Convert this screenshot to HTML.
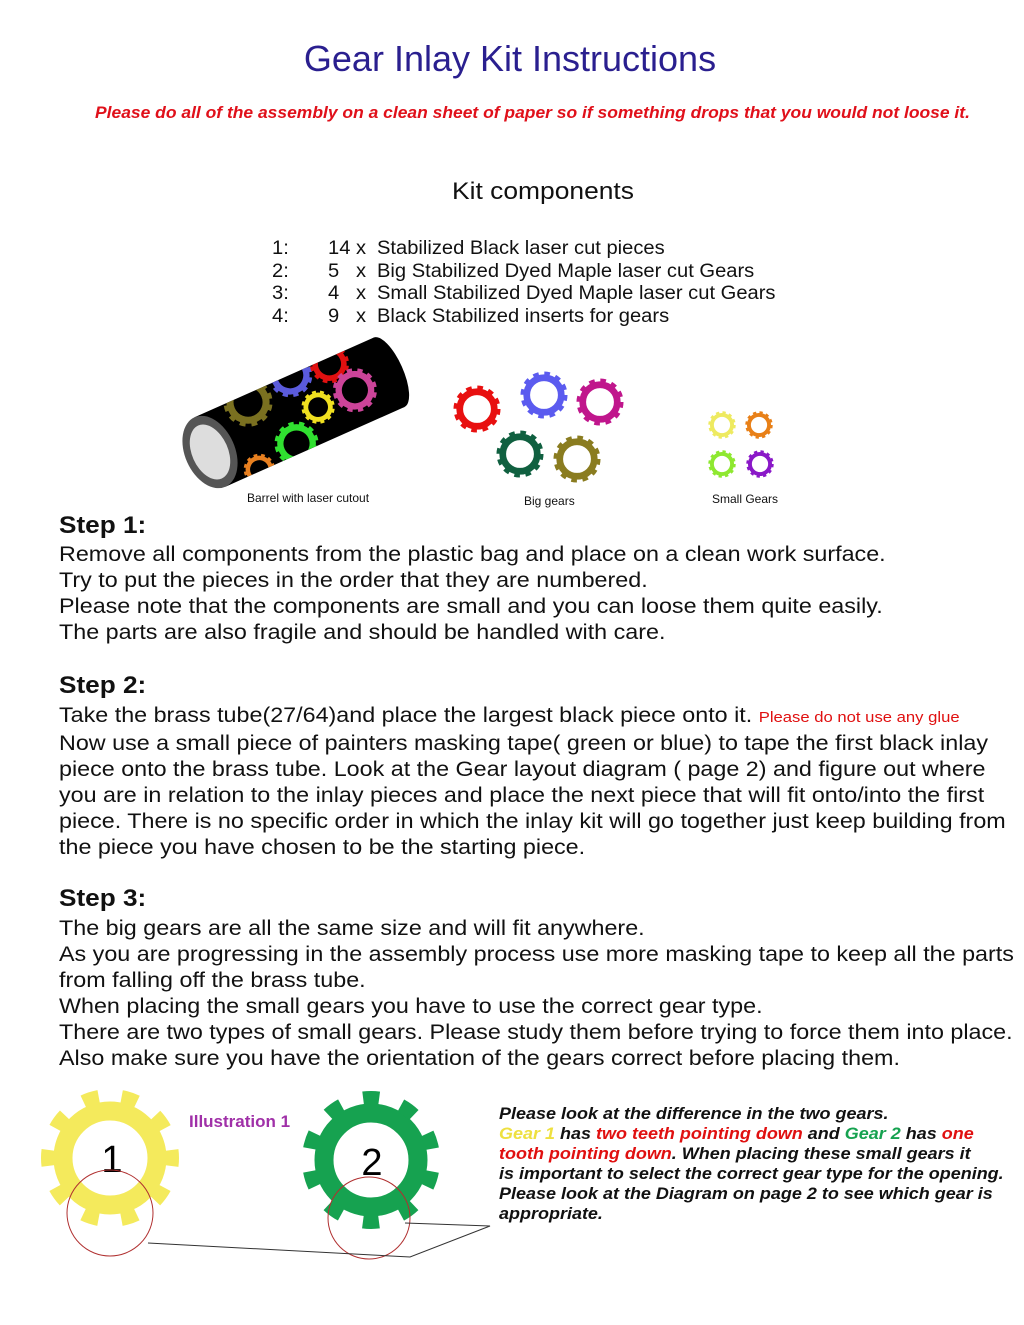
<!DOCTYPE html>
<html><head><meta charset="utf-8"><style>
body{margin:0;background:#fff;}
#p{position:relative;width:1024px;height:1325px;overflow:hidden;font-family:"Liberation Sans",Arial,sans-serif;color:#111;}
.t{position:absolute;white-space:nowrap;transform-origin:0 0;}
.b{font-size:21px;left:59px;line-height:26px;transform:scaleX(1.11);}
.h{font-size:24px;font-weight:bold;left:59px;transform:scaleX(1.09);}
.l{font-size:19px;transform:scaleX(1.06);}
.r{position:absolute;left:499px;top:1104px;font-size:16.5px;font-weight:bold;font-style:italic;line-height:20px;white-space:nowrap;transform-origin:0 0;transform:scaleX(1.09);}
svg{position:absolute;left:0;top:0;}
</style></head><body><div id="p">
<div class="t" style="left:0;width:1020px;text-align:center;top:38px;font-size:36px;color:#2a1f8f;">Gear Inlay Kit Instructions</div>
<div class="t" style="left:95px;top:104px;font-size:16.5px;color:#e0101a;font-weight:bold;font-style:italic;transform:scaleX(1.058);">Please do all of the assembly on a clean sheet of paper so if something drops that you would not loose it.</div>
<div class="t" style="left:452px;top:178px;font-size:24px;transform:scaleX(1.1);">Kit components</div>
<div class="t l" style="left:272px;top:238px;line-height:22.7px;">1:<br>2:<br>3:<br>4:</div>
<div class="t l" style="left:328px;top:238px;line-height:22.7px;">14 x<br>5 &nbsp;&nbsp;x<br>4 &nbsp;&nbsp;x<br>9 &nbsp;&nbsp;x</div>
<div class="t l" style="left:377px;top:238px;line-height:22.7px;">Stabilized Black laser cut pieces<br>Big Stabilized Dyed Maple laser cut Gears<br>Small Stabilized Dyed Maple laser cut Gears<br>Black Stabilized inserts for gears</div>

<svg width="1024" height="1325">
<defs>
<symbol id="bg" viewBox="-25 -25 50 50" overflow="visible">
<circle r="18" fill="none" stroke="currentColor" stroke-width="7"/>
<circle r="22.5" fill="none" stroke="currentColor" stroke-width="4" stroke-dasharray="5.9 5.9"/>
</symbol>
<clipPath id="bc"><rect x="0" y="-38" width="200" height="76"/><ellipse cx="200" cy="0" rx="14" ry="38"/></clipPath>
</defs>
<g transform="translate(210,452) rotate(-24)">
<rect x="0" y="-38" width="196" height="76" fill="#000"/>
<ellipse cx="196" cy="0" rx="14" ry="38" fill="#000"/>
<g clip-path="url(#bc)">
<use href="#bg" x="30" y="-55" width="50" height="50" color="#7a7020"/>
<use href="#bg" x="82" y="-60" width="45" height="45" color="#5b5bdc"/>
<use href="#bg" x="125" y="-52" width="40" height="40" color="#e01010"/>
<use href="#bg" x="100" y="-14" width="34" height="34" color="#f0e020"/>
<use href="#bg" x="135" y="-20" width="45" height="45" color="#cc4499"/>
<use href="#bg" x="60" y="5" width="45" height="45" color="#30e030"/>
<use href="#bg" x="22" y="20" width="32" height="32" color="#e88020"/>
</g>
<ellipse cx="0" cy="0" rx="25" ry="38" fill="#555"/>
<ellipse cx="0" cy="0" rx="18" ry="29" fill="#ddd"/>
</g>
<use href="#bg" x="453" y="385" width="48" height="48" color="#e81010"/>
<use href="#bg" x="520" y="371" width="48" height="48" color="#5b5bef"/>
<use href="#bg" x="576" y="378" width="48" height="48" color="#c0168c"/>
<use href="#bg" x="496" y="430" width="48" height="48" color="#106040"/>
<use href="#bg" x="553" y="435" width="48" height="48" color="#8a7c20"/>
<use href="#bg" x="708" y="411" width="28" height="28" color="#eeea60"/>
<use href="#bg" x="745" y="411" width="28" height="28" color="#e88018"/>
<use href="#bg" x="708" y="450" width="28" height="28" color="#8ee830"/>
<use href="#bg" x="746" y="450" width="28" height="28" color="#8a18c8"/>

<g transform="translate(110,1158)">
<circle r="47" fill="none" stroke="#f4ea5c" stroke-width="19"/>
<circle r="62" fill="none" stroke="#f4ea5c" stroke-width="14" stroke-dasharray="16 22.96" transform="rotate(-7.4)"/>
</g>
<g transform="translate(371,1160)">
<circle r="47" fill="none" stroke="#16a250" stroke-width="19"/>
<circle r="62" fill="none" stroke="#16a250" stroke-width="14" stroke-dasharray="16 22.96" transform="rotate(10.6)"/>
</g>
<text x="112" y="1172" font-size="38" font-family="Liberation Sans" text-anchor="middle">1</text>
<text x="372" y="1175" font-size="38" font-family="Liberation Sans" text-anchor="middle">2</text>
<circle cx="110" cy="1213" r="43" fill="none" stroke="#b03030" stroke-width="1"/>
<circle cx="369" cy="1218" r="41" fill="none" stroke="#b03030" stroke-width="1"/>
<polyline points="148,1243 410,1257 490,1226 405,1223" fill="none" stroke="#333" stroke-width="1"/>
</svg>
<div class="t" style="left:247px;top:491px;font-size:12px;">Barrel with laser cutout</div>
<div class="t" style="left:524px;top:494px;font-size:12px;">Big gears</div>
<div class="t" style="left:712px;top:492px;font-size:12px;">Small Gears</div>
<div class="t" style="left:189px;top:1112px;font-size:17px;font-weight:bold;color:#a030a8;">Illustration 1</div>

<div class="t h" style="top:512px;">Step 1:</div>
<div class="t b" style="top:542px;">Remove all components from the plastic bag and place on a clean work surface.<br>Try to put the pieces in the order that they are numbered.<br>Please note that the components are small and you can loose them quite easily.<br>The parts are also fragile and should be handled with care.</div>
<div class="t h" style="top:672px;">Step 2:</div>
<div class="t b" style="top:703px;">Take the brass tube(27/64)and place the largest black piece onto it. <span style="font-size:15px;color:#e01010;">Please do not use any glue</span><br>Now use a small piece of painters masking tape( green or blue) to tape the first black inlay<br>piece onto the brass tube. Look at the Gear layout diagram ( page 2) and figure out where<br>you are in relation to the inlay pieces and place the next piece that will fit onto/into the first<br>piece. There is no specific order in which the inlay kit will go together just keep building from<br>the piece you have chosen to be the starting piece.</div>
<div class="t h" style="top:885px;">Step 3:</div>
<div class="t b" style="top:916px;">The big gears are all the same size and will fit anywhere.<br>As you are progressing in the assembly process use more masking tape to keep all the parts<br>from falling off the brass tube.<br>When placing the small gears you have to use the correct gear type.<br>There are two types of small gears. Please study them before trying to force them into place.<br>Also make sure you have the orientation of the gears correct before placing them.</div>
<div class="r">Please look at the difference in the two gears.<br><span style="color:#eee040">Gear 1</span> has <span style="color:#e01010">two teeth pointing down</span> and <span style="color:#16a250">Gear 2</span> has <span style="color:#e01010">one</span><br><span style="color:#e01010">tooth pointing down</span>. When placing these small gears it<br>is important to select the correct gear type for the opening.<br>Please look at the Diagram on page 2 to see which gear is<br>appropriate.</div>
</div></body></html>
